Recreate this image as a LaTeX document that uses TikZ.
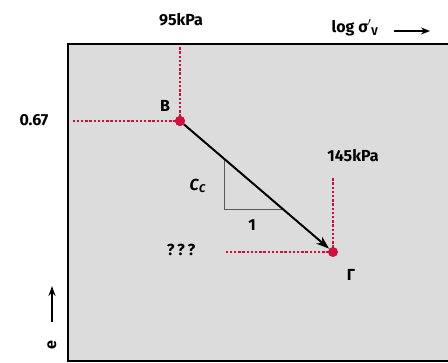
\documentclass[tikz,border=0pt]{standalone}
\usepackage{fontspec}
\setmainfont{Fira Sans}
\usetikzlibrary{arrows.meta}
\definecolor{boxgray}{HTML}{DCDCDC}
\definecolor{ptred}{HTML}{D0103A}
\begin{document}
\begin{tikzpicture}[x=1pt,y=-1pt,
  lbl/.style={font=\bfseries\fontsize{16}{18}\selectfont, inner sep=0pt},
  guide/.style={ptred, line width=2.6pt, dash pattern=on 2.4pt off 1.8pt},
  pt/.style={circle, fill=ptred, inner sep=0pt, minimum size=10pt},
  tri/.style={gray!70!black, line width=1pt}]
\useasboundingbox (0,0) rectangle (448,363);
\fill[white] (0,0) rectangle (448,363);
\fill[boxgray] (68,44) rectangle (450,361);
\draw[line width=2pt] (450,44) -- (68,44) -- (68,361) -- (450,361);
% points
\node[pt] (B) at (180,121) {};
\node[pt] (G) at (333,252) {};
\coordinate (Btop) at (180,46);
\coordinate (Bleft) at (72,121);
\coordinate (Gtop) at (333,178);
\coordinate (Gleft) at (225,252);
\draw[guide] (B.center) -- (Btop);
\draw[guide] (B.center) -- (Bleft);
\draw[guide] (G.center) -- (Gtop);
\draw[guide] (G.center) -- (Gleft);
% triangle
\coordinate (T1) at (224,158.7);
\coordinate (T2) at (224,210);
\coordinate (T3) at (284,210);
\draw[tri] (T1) -- (T2) -- (T3);
% main arrow
\draw[line width=2pt, -{Stealth[length=13pt,width=9pt]}] (B) -- (G);
\node[pt] at (B) {};
% labels
\node[lbl] (l95) at (181,20) {95kPa};
\node[lbl] (llog) at (355,28) {log σ\raisebox{1pt}{$'$}\textsubscript{V}};
\coordinate (ax1) at (394,31);
\coordinate (ax2) at (430,31);
\draw[line width=2pt, -{Stealth[length=9pt,width=7pt]}] (ax1) -- (ax2);
\node[lbl] (l067) at (34,120) {0.67};
\node[lbl] (lB) at (165,106) {B};
\node[lbl] (l145) at (353,156) {145kPa};
\node[lbl] (lCc) at (198,186) {\textit{C}\textsubscript{\textit{C}}};
\node[lbl] (l1) at (252,225) {1};
\node[lbl] (lq) at (181,250) {?\,?\,?};
\node[lbl] (lG) at (351,275) {Γ};
\coordinate (ey1) at (52,322);
\coordinate (ey2) at (52,286);
\draw[line width=2pt, -{Stealth[length=10pt,width=7pt]}] (ey1) -- (ey2);
\node[lbl, rotate=90] (le) at (52,345) {e};
\end{tikzpicture}
\end{document}
